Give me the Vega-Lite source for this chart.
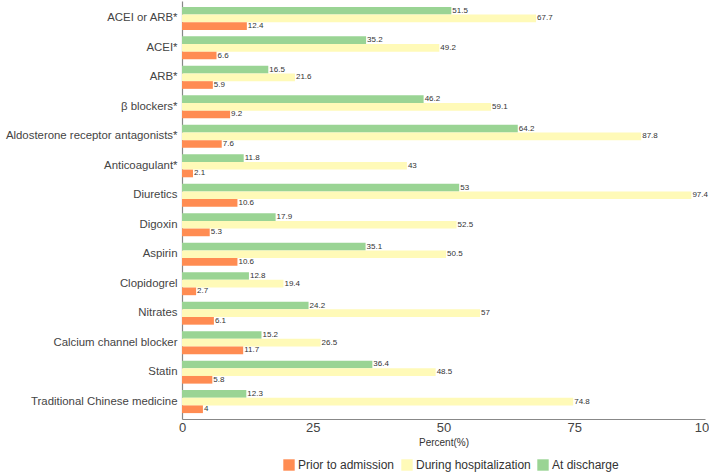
{
  "$schema": "https://vega.github.io/schema/vega-lite/v6.json",
  "autosize": {"type": "none"},
  "padding": {"left": 182, "top": 1, "right": 4, "bottom": 53},
  "width": 523,
  "height": 418,
  "background": "white",
  "config": {
    "view": {"stroke": null},
    "font": "Liberation Sans",
    "axis": {"domainColor": "#888888", "domainWidth": 1.2, "grid": false, "ticks": false, "labelColor": "#444444"}
  },
  "data": {
    "values": [
      {"drug": "ACEI or ARB*", "period": "At discharge", "value": 51.5},
      {"drug": "ACEI or ARB*", "period": "During hospitalization", "value": 67.7},
      {"drug": "ACEI or ARB*", "period": "Prior to admission", "value": 12.4},
      {"drug": "ACEI*", "period": "At discharge", "value": 35.2},
      {"drug": "ACEI*", "period": "During hospitalization", "value": 49.2},
      {"drug": "ACEI*", "period": "Prior to admission", "value": 6.6},
      {"drug": "ARB*", "period": "At discharge", "value": 16.5},
      {"drug": "ARB*", "period": "During hospitalization", "value": 21.6},
      {"drug": "ARB*", "period": "Prior to admission", "value": 5.9},
      {"drug": "β blockers*", "period": "At discharge", "value": 46.2},
      {"drug": "β blockers*", "period": "During hospitalization", "value": 59.1},
      {"drug": "β blockers*", "period": "Prior to admission", "value": 9.2},
      {"drug": "Aldosterone receptor antagonists*", "period": "At discharge", "value": 64.2},
      {"drug": "Aldosterone receptor antagonists*", "period": "During hospitalization", "value": 87.8},
      {"drug": "Aldosterone receptor antagonists*", "period": "Prior to admission", "value": 7.6},
      {"drug": "Anticoagulant*", "period": "At discharge", "value": 11.8},
      {"drug": "Anticoagulant*", "period": "During hospitalization", "value": 43},
      {"drug": "Anticoagulant*", "period": "Prior to admission", "value": 2.1},
      {"drug": "Diuretics", "period": "At discharge", "value": 53},
      {"drug": "Diuretics", "period": "During hospitalization", "value": 97.4},
      {"drug": "Diuretics", "period": "Prior to admission", "value": 10.6},
      {"drug": "Digoxin", "period": "At discharge", "value": 17.9},
      {"drug": "Digoxin", "period": "During hospitalization", "value": 52.5},
      {"drug": "Digoxin", "period": "Prior to admission", "value": 5.3},
      {"drug": "Aspirin", "period": "At discharge", "value": 35.1},
      {"drug": "Aspirin", "period": "During hospitalization", "value": 50.5},
      {"drug": "Aspirin", "period": "Prior to admission", "value": 10.6},
      {"drug": "Clopidogrel", "period": "At discharge", "value": 12.8},
      {"drug": "Clopidogrel", "period": "During hospitalization", "value": 19.4},
      {"drug": "Clopidogrel", "period": "Prior to admission", "value": 2.7},
      {"drug": "Nitrates", "period": "At discharge", "value": 24.2},
      {"drug": "Nitrates", "period": "During hospitalization", "value": 57},
      {"drug": "Nitrates", "period": "Prior to admission", "value": 6.1},
      {"drug": "Calcium channel blocker", "period": "At discharge", "value": 15.2},
      {"drug": "Calcium channel blocker", "period": "During hospitalization", "value": 26.5},
      {"drug": "Calcium channel blocker", "period": "Prior to admission", "value": 11.7},
      {"drug": "Statin", "period": "At discharge", "value": 36.4},
      {"drug": "Statin", "period": "During hospitalization", "value": 48.5},
      {"drug": "Statin", "period": "Prior to admission", "value": 5.8},
      {"drug": "Traditional Chinese medicine", "period": "At discharge", "value": 12.3},
      {"drug": "Traditional Chinese medicine", "period": "During hospitalization", "value": 74.8},
      {"drug": "Traditional Chinese medicine", "period": "Prior to admission", "value": 4}
    ]
  },
  "encoding": {
    "y": {
      "field": "drug", "type": "nominal", "sort": null,
      "scale": {"paddingInner": 0.22, "paddingOuter": 0.2},
      "axis": {"title": null, "labelFontSize": 11.4, "labelPadding": 5, "labelLimit": 300}
    },
    "yOffset": {
      "field": "period", "type": "nominal",
      "sort": ["At discharge", "During hospitalization", "Prior to admission"],
      "scale": {"paddingInner": 0, "paddingOuter": 0}
    },
    "x": {
      "field": "value", "type": "quantitative",
      "scale": {"domain": [0, 100], "nice": false},
      "axis": {"title": "Percent(%)", "titleFontSize": 10, "titleFontWeight": "normal", "titleColor": "#333333", "titlePadding": 3, "labelFontSize": 13, "labelPadding": 2, "values": [0, 25, 50, 75, 100], "labelFlush": false}
    }
  },
  "layer": [
    {
      "mark": {"type": "bar"},
      "encoding": {
        "color": {
          "field": "period", "type": "nominal",
          "scale": {"domain": ["Prior to admission", "During hospitalization", "At discharge"], "range": ["#ff8c52", "#fffab8", "#9ad494"]},
          "legend": {"title": null, "orient": "none", "legendX": 101, "legendY": 458, "direction": "horizontal", "symbolType": "square", "symbolSize": 130, "symbolStrokeWidth": 0, "labelFontSize": 12, "labelColor": "#333333", "columnPadding": 6, "labelOffset": 3}
        }
      }
    },
    {
      "mark": {"type": "text", "align": "left", "baseline": "middle", "dx": 1, "fontSize": 8, "color": "#333333"},
      "encoding": {"text": {"field": "value", "type": "quantitative"}}
    }
  ]
}
